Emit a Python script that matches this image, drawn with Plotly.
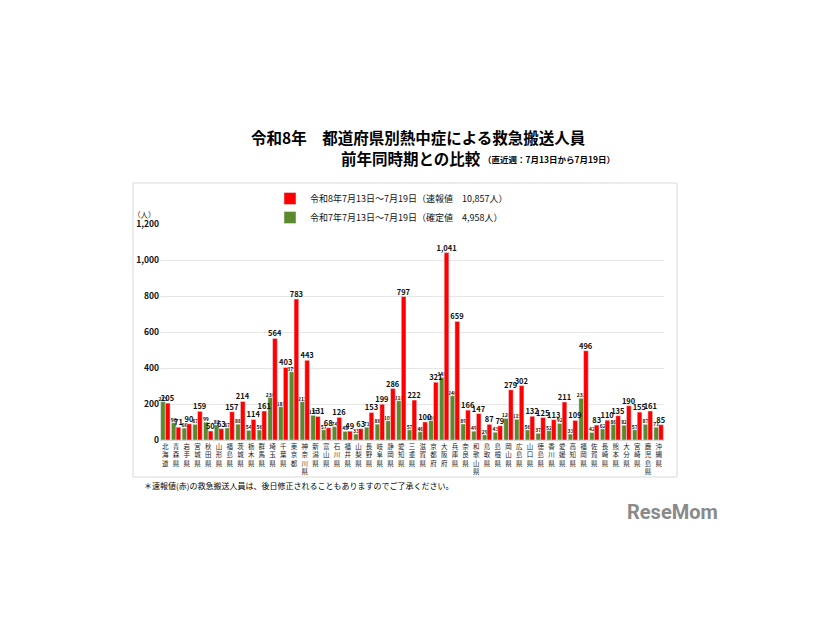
import plotly.graph_objects as go

prefs = ["北海道","青森県","岩手県","宮城県","秋田県","山形県","福島県","茨城県","栃木県","群馬県",
         "埼玉県","千葉県","東京都","神奈川県","新潟県","富山県","石川県","福井県","山梨県","長野県",
         "岐阜県","静岡県","愛知県","三重県","滋賀県","京都府","大阪府","兵庫県","奈良県","和歌山県",
         "鳥取県","島根県","岡山県","広島県","山口県","徳島県","香川県","愛媛県","高知県","福岡県",
         "佐賀県","長崎県","熊本県","大分県","宮崎県","鹿児島県","沖縄県"]
r8 = [205,71,90,159,50,63,157,214,114,161,564,403,783,443,131,68,126,49,63,153,
      199,286,797,222,100,321,1041,659,166,147,87,79,279,302,132,125,113,211,109,496,
      83,110,135,190,155,161,85]
r7 = [213,96,66,87,99,83,67,88,54,56,236,185,379,213,137,57,74,48,33,71,
      88,107,218,57,46,108,348,246,89,49,29,43,120,115,56,37,52,92,33,232,
      42,62,86,82,57,87,71]
yticks = [0,200,400,600,800,1000,1200]

F = "Noto Sans CJK JP"
labels = ["<br>".join(list(p)) for p in prefs]

fig = go.Figure()
fig.add_trace(go.Bar(x=labels, y=r7, name="令和7年7月13日～7月19日（確定値　4,958人）",
                     marker_color="#5b8a2c", text=[str(v) for v in r7], textposition="outside",
                     constraintext="none",
                     textfont=dict(size=5, color="#111", family=F, weight="bold"), cliponaxis=False))
fig.add_trace(go.Bar(x=labels, y=r8, name="令和8年7月13日～7月19日（速報値　10,857人）",
                     marker_color="#ff0000", text=[f"{v:,}" for v in r8], textposition="outside",
                     constraintext="none",
                     textfont=dict(size=7.5, color="#111", family=F, weight="bold"), cliponaxis=False))

L, R, T, B = 160, 162, 224, 180
W, H = 826, 620
pw, ph = W - L - R, H - T - B
def px(x): return (x - L) / pw
def py(y): return (H - B - y) / ph

fig.update_layout(
    width=W, height=H, margin=dict(l=L, r=R, t=T, b=B),
    paper_bgcolor="white", plot_bgcolor="white",
    font=dict(family=F, color="#111"),
    barmode="group", bargap=0.12, bargroupgap=0.0,
    legend=dict(x=px(270), y=py(184), xanchor="left", yanchor="top",
                traceorder="reversed", font=dict(size=9, family=F, color="#111"),
                itemwidth=30, tracegroupgap=0, bgcolor="rgba(0,0,0,0)"),
    xaxis=dict(tickfont=dict(size=6.5, family=F, color="#222"), tickangle=0,
               showline=True, linecolor="#d9d9d9", ticks="", automargin=False),
    yaxis=dict(range=[0, 1200], tickvals=yticks, ticktext=[f"<b>{v:,}</b>" for v in yticks],
               tickfont=dict(size=8.5, family=F, color="#111"), gridcolor="#e6e6e6",
               zeroline=False, showline=False, automargin=False),
    shapes=[dict(type="rect", xref="paper", yref="paper", x0=px(133), x1=px(677), y0=py(477), y1=py(183),
                 line=dict(color="#d9d9d9", width=1), layer="below")],
    annotations=[
        dict(text="<b>令和8年　都道府県別熱中症による救急搬送人員</b>", xref="paper", yref="paper",
             x=px(418), y=py(137), xanchor="center", yanchor="middle", showarrow=False,
             font=dict(size=15.5, family=F, color="#000")),
        dict(text="<b>前年同時期との比較</b>", xref="paper", yref="paper",
             x=px(339), y=py(158), xanchor="left", yanchor="middle", showarrow=False,
             font=dict(size=15.5, family=F, color="#000")),
        dict(text="<b>（直近週：7月13日から7月19日）</b>", xref="paper", yref="paper",
             x=px(481), y=py(159), xanchor="left", yanchor="middle", showarrow=False,
             font=dict(size=8.5, family=F, color="#000")),
        dict(text="（人）", xref="paper", yref="paper",
             x=px(158), y=py(215), xanchor="right", yanchor="middle", showarrow=False,
             font=dict(size=7.5, family=F, color="#222")),
        dict(text="＊速報値(赤)の救急搬送人員は、後日修正されることもありますのでご了承ください。",
             xref="paper", yref="paper", x=px(142), y=py(485), xanchor="left", yanchor="middle",
             showarrow=False, font=dict(size=8, family=F, color="#000")),
        dict(text="<b>ReseMom</b>", xref="paper", yref="paper", x=px(720), y=py(512),
             xanchor="right", yanchor="middle", showarrow=False,
             font=dict(size=20, family="Roboto", color="#8a8a8a")),
    ],
)
fig.write_html("out.html")
